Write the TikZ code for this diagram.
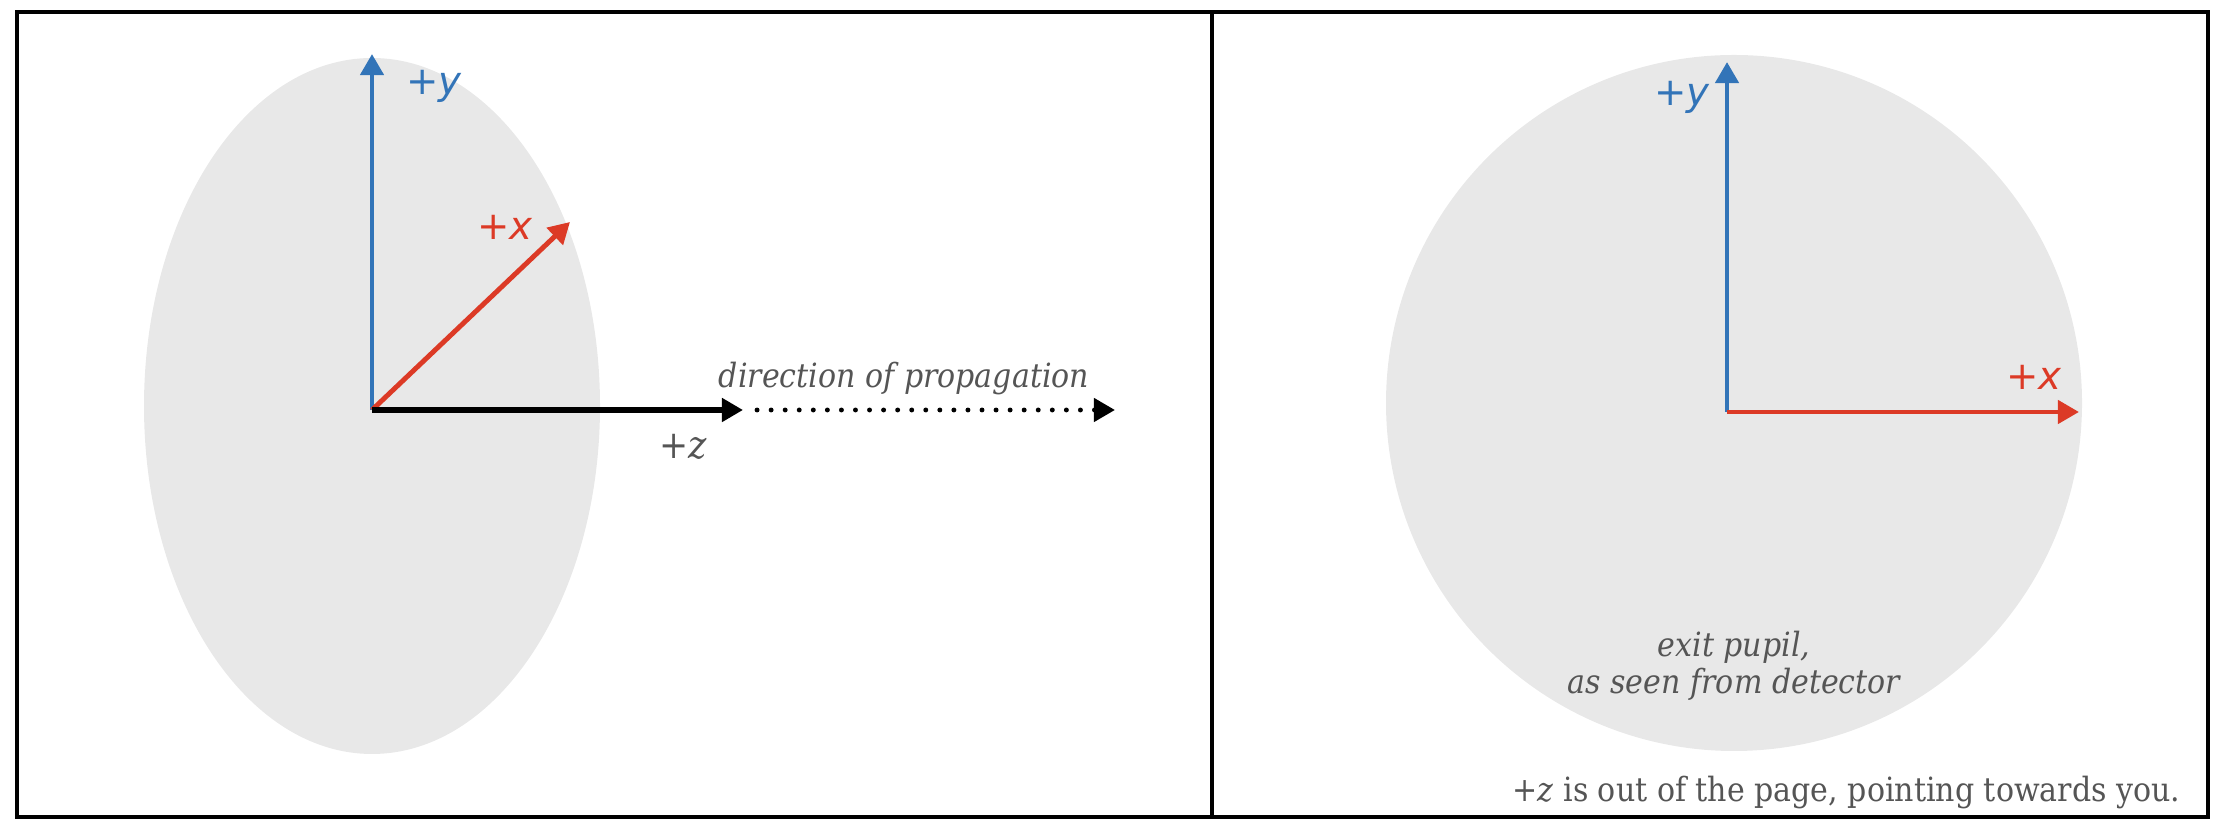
\documentclass[tikz,border=0pt]{standalone}
\usepackage{fontspec}
\setmainfont{DejaVu Serif}[FakeStretch=0.9]
\newfontfamily\axfont{DejaVu Sans}
\usetikzlibrary{arrows.meta}
\definecolor{axblue}{HTML}{3274B8}
\definecolor{axred}{HTML}{DC3A26}
\definecolor{txtgray}{HTML}{555555}
\definecolor{pupilgray}{HTML}{E8E8E8}
\tikzset{
  axis/.style={line width=1.4pt,-{Triangle[length=6pt,width=6.5pt]}},
  lbl/.style={inner sep=0pt,font=\fontsize{9.5}{10.5}\selectfont},
  axlbl/.style={inner sep=0pt,font=\fontsize{11}{12}\selectfont\axfont},
}
\begin{document}
\begin{tikzpicture}[every node/.style={inner sep=0}]
            \useasboundingbox (0,0) rectangle (22.18,8.32);
            % panels
            \draw[line width=0.9pt] (0.17,0.15) rectangle (22.08,8.20);
            \draw[line width=0.9pt] (12.12,0.15) -- (12.12,8.20);

            % left panel: side view
            \fill[pupilgray] (3.72,4.26) ellipse [x radius=2.28, y radius=3.48];
            \coordinate (o1) at (3.72,4.22);
            \coordinate (y1) at (3.72,7.78);
            \coordinate (x1) at (5.70,6.10);
            \coordinate (z1) at (7.43,4.22);
            \coordinate (d1) at (11.15,4.22);
            \draw[axis,axblue] (o1) -- (y1);
            \draw[axis,axred] (o1) -- (x1);
            \draw[axis,black,line width=1.7pt] (o1) -- (z1);
            \draw[black,line width=1.4pt,line cap=round,dash pattern=on 0pt off 4pt,
                  -{Triangle[length=6pt,width=6.5pt]}] ([xshift=4pt]z1) -- (d1);
            \node[axlbl,axblue] (ly1) at (4.34,7.46){+\itshape y};
            \node[axlbl,axred] (lx1) at (5.05,6.05){+\itshape x};
            \node[lbl,txtgray,font=\fontsize{11}{12}\selectfont] (lz1) at (6.83,3.85){+\itshape z};
            \node[lbl,txtgray] (dir) at (9.04,4.53){\itshape direction of propagation};

            % right panel: seen from detector
            \fill[pupilgray] (17.34,4.29) circle (3.48);
            \coordinate (o2) at (17.27,4.20);
            \coordinate (y2) at (17.27,7.70);
            \coordinate (x2) at (20.79,4.20);
            \draw[axis,axblue] (o2) -- (y2);
            \draw[axis,axred] (o2) -- (x2);
            \node[axlbl,axblue] (ly2) at (16.82,7.35){+\itshape y};
            \node[axlbl,axred] (lx2) at (20.34,4.55){+\itshape x};
            \node[lbl,txtgray,align=center] (pupil) at (17.34,1.66){\itshape exit pupil,\\\itshape as seen from detector};
            \node[lbl,txtgray,anchor=east] (note) at (21.81,0.39){+\textit{z} is out of the page, pointing towards you.};
        \end{tikzpicture}
\end{document}
